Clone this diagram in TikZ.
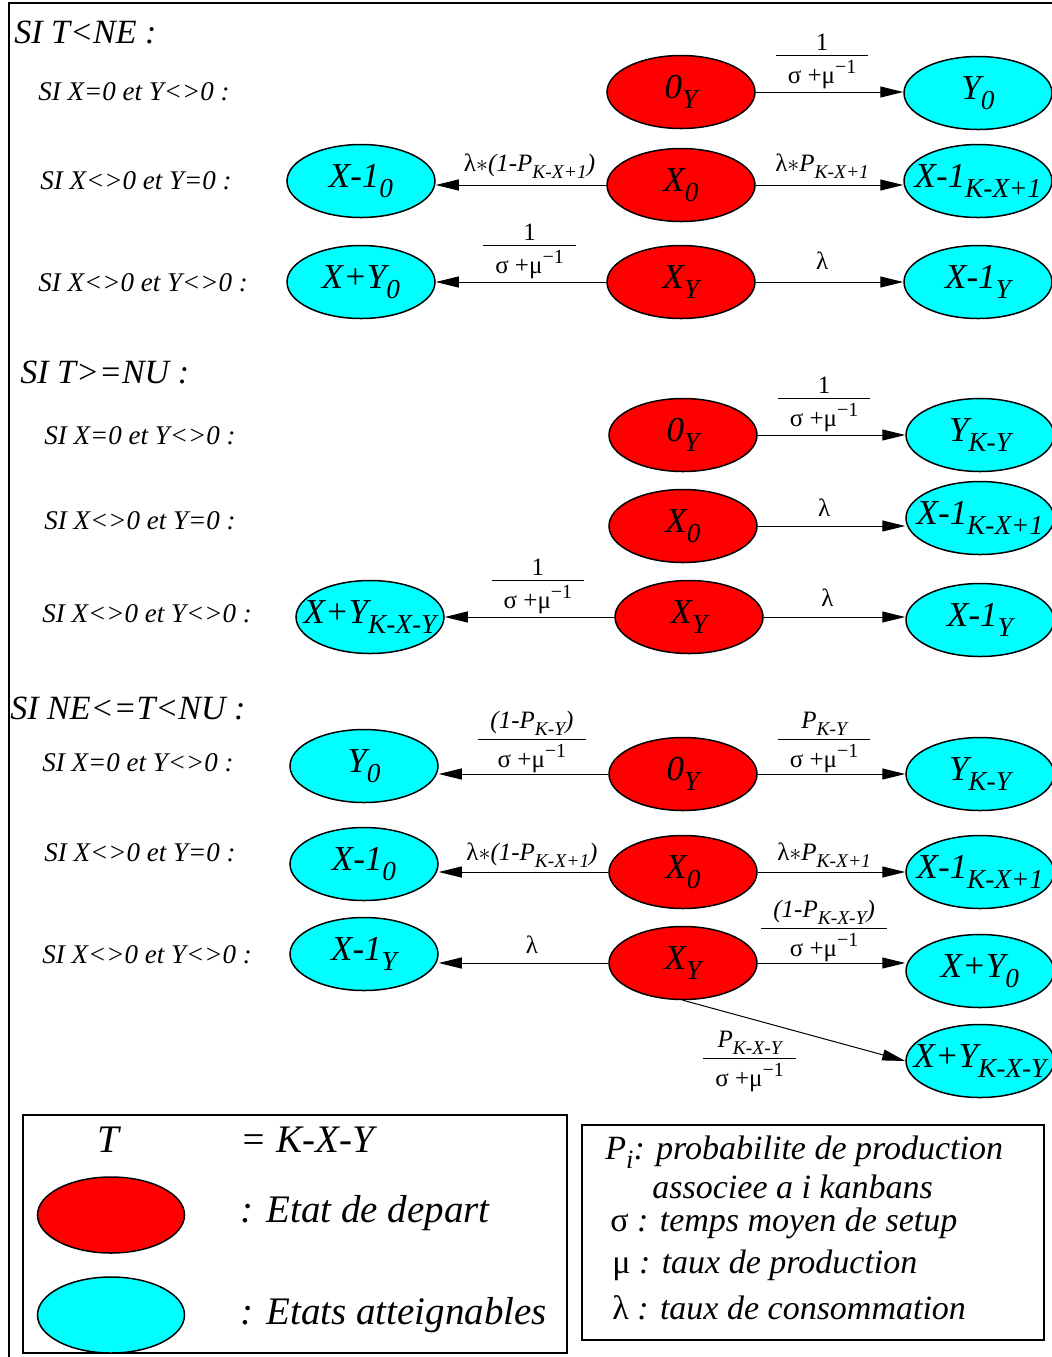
\documentclass[tikz,border=0pt]{standalone}
\usepackage{fontspec}
\setmainfont{Liberation Serif}
\usetikzlibrary{arrows.meta,positioning,shapes.geometric}
\definecolor{depRed}{HTML}{FF0000}
\definecolor{atCyan}{HTML}{00FFFF}
\newcommand{\lo}[1]{\raisebox{-0.28em}{\scalebox{0.78}{#1}}}
\newcommand{\lam}{\textup{λ}}
\newcommand{\sigmu}{\textup{σ +μ\raisebox{0.42em}{\scalebox{0.8}{−1}}}}
\newcommand{\rate}[3][1pt]{\begin{tabular}{c}#2\\[#1]\hline\rule{0pt}{14pt}#3\end{tabular}}
\newcommand{\etat}[1]{\makebox[0pt]{#1}}

\begin{document}
\begin{tikzpicture}[x=0.5pt,y=-0.5pt,font=\itshape,
    etatbase/.style={ellipse,draw=black,line width=0.75pt,minimum width=74pt,
                     minimum height=36.5pt,inner sep=0pt,
                     font=\fontsize{17.5}{21}\selectfont\itshape},
    depart/.style={etatbase,fill=depRed},
    atteint/.style={etatbase,fill=atCyan},
    flow/.style={-{Triangle[length=11.5pt,width=5.5pt]},line width=0.5pt},
    rate/.style={pos=0.45,inner sep=1pt,font=\fontsize{12.5}{14.5}\selectfont\itshape},
    cond/.style={anchor=west,inner sep=0pt,font=\fontsize{13.5}{16}\selectfont\itshape},
    titre/.style={anchor=west,inner sep=0pt,font=\fontsize{17}{20}\selectfont\itshape},
    legende/.style={anchor=west,inner sep=0pt,font=\fontsize{17}{20}\selectfont\itshape},
    legbig/.style={anchor=west,inner sep=0pt,font=\fontsize{19.5}{23}\selectfont\itshape}]
  \useasboundingbox (0,0) rectangle (1052,1357);
  \draw[line width=1pt] (9,3) rectangle (1070,1370);

  % SI T<NE
  \node[titre] (tA) at (14,32) {SI T<NE :};
  \node[cond] (cA1) at (38,92) {SI X=0 et Y<>0 :};
  \node[cond] (cA2) at (40,181) {SI X<>0 et Y=0 :};
  \node[cond] (cA3) at (38,283) {SI X<>0 et Y<>0 :};
  \node[depart] (a0Y) at (681,92) {\etat{0\lo{Y}}};
  \node[atteint] (aY0) at (978,93) {\etat{Y\lo{0}}};
  \node[depart] (aX0) at (681,185) {\etat{X\lo{0}}};
  \node[atteint] (aXm0) at (361,181) {\etat{X-1\lo{0}}};
  \node[atteint] (aXmK) at (978,181) {\etat{X-1\lo{K-X+1}}};
  \node[depart] (aXY) at (681,282) {\etat{X\lo{Y}}};
  \node[atteint] (aXpY) at (361,282) {\etat{X+Y\lo{0}}};
  \node[atteint] (aXmY) at (978,282) {\etat{X-1\lo{Y}}};
  \draw[flow] (a0Y.east) -- node[rate,above=-1.5pt]{\rate[-2pt]{\textup{1}}{\sigmu}} (a0Y.east -| aY0.west);
  \draw[flow] (aX0.west) -- node[rate,above=2pt]{\lam$\ast$(1-P\lo{K-X+1})} (aX0.west -| aXm0.east);
  \draw[flow] (aX0.east) -- node[rate,above=2pt]{\lam$\ast$P\lo{K-X+1}} (aX0.east -| aXmK.west);
  \draw[flow] (aXY.west) -- node[rate,above=-1.5pt]{\rate[-2pt]{\textup{1}}{\sigmu}} (aXY.west -| aXpY.east);
  \draw[flow] (aXY.east) -- node[rate,above=5pt]{\lam} (aXY.east -| aXmY.west);

  % SI T>=NU
  \node[titre] (tB) at (20,372) {SI T>=NU :};
  \node[cond] (cB1) at (44,436) {SI X=0 et Y<>0 :};
  \node[cond] (cB2) at (44,521) {SI X<>0 et Y=0 :};
  \node[cond] (cB3) at (42,614) {SI X<>0 et Y<>0 :};
  \node[depart] (b0Y) at (683,435) {\etat{0\lo{Y}}};
  \node[atteint] (bYK) at (980,435) {\etat{Y\lo{K-Y}}};
  \node[depart] (bX0) at (683,526) {\etat{X\lo{0}}};
  \node[atteint] (bXmK) at (980,518) {\etat{X-1\lo{K-X+1}}};
  \node[depart] (bXY) at (689,617) {\etat{X\lo{Y}}};
  \node[atteint] (bXpYK) at (370,617) {\etat{X+Y\lo{K-X-Y}}};
  \node[atteint] (bXmY) at (980,620) {\etat{X-1\lo{Y}}};
  \draw[flow] (b0Y.east) -- node[rate,above=-1.5pt]{\rate[-2pt]{\textup{1}}{\sigmu}} (b0Y.east -| bYK.west);
  \draw[flow] (bX0.east) -- node[rate,above=3.5pt]{\lam} (bX0.east -| bXmK.west);
  \draw[flow] (bXY.west) -- node[rate,above=-1.5pt]{\rate[-2pt]{\textup{1}}{\sigmu}} (bXY.west -| bXpYK.east);
  \draw[flow] (bXY.east) -- node[rate,above=4pt]{\lam} (bXY.east -| bXmY.west);

  % SI NE<=T<NU
  \node[titre] (tC) at (10,708) {SI NE<=T<NU :};
  \node[cond] (cC1) at (42,763) {SI X=0 et Y<>0 :};
  \node[cond] (cC2) at (44,853) {SI X<>0 et Y=0 :};
  \node[cond] (cC3) at (42,955) {SI X<>0 et Y<>0 :};
  \node[depart] (c0Y) at (683,774) {\etat{0\lo{Y}}};
  \node[atteint] (cY0) at (364,766) {\etat{Y\lo{0}}};
  \node[atteint] (cYK) at (980,774) {\etat{Y\lo{K-Y}}};
  \node[depart] (cX0) at (683,872) {\etat{X\lo{0}}};
  \node[atteint] (cXm0) at (364,864) {\etat{X-1\lo{0}}};
  \node[atteint] (cXmK) at (980,872) {\etat{X-1\lo{K-X+1}}};
  \node[depart] (cXY) at (683,963) {\etat{X\lo{Y}}};
  \node[atteint] (cXmY) at (364,954) {\etat{X-1\lo{Y}}};
  \node[atteint] (cXpY0) at (980,971) {\etat{X+Y\lo{0}}};
  \node[atteint] (cXpYK) at (980,1061) {\etat{X+Y\lo{K-X-Y}}};
  \draw[flow] (c0Y.west) -- node[rate,above=-2.5pt]{\rate{(1-P\lo{K-Y})}{\sigmu}} (c0Y.west -| cY0.east);
  \draw[flow] (c0Y.east) -- node[rate,above=-2.5pt]{\rate{P\lo{K-Y}}{\sigmu}} (c0Y.east -| cYK.west);
  \draw[flow] (cX0.west) -- node[rate,above=1pt]{\lam$\ast$(1-P\lo{K-X+1})} (cX0.west -| cXm0.east);
  \draw[flow] (cX0.east) -- node[rate,above=1pt]{\lam$\ast$P\lo{K-X+1}} (cX0.east -| cXmK.west);
  \draw[flow] (cXY.west) -- node[rate,above=3.5pt]{\lam} (cXY.west -| cXmY.east);
  \draw[flow] (cXY.east) -- node[rate,above=-2.5pt]{\rate{(1-P\lo{K-X-Y})}{\sigmu}} (cXY.east -| cXpY0.west);
  \draw[flow] (cXY.south) -- node[rate,pos=0.3,below=3pt]{\rate{P\lo{K-X-Y}}{\sigmu}} (cXpYK.west);

  % legende
  \draw[line width=0.8pt] (23,1115) rectangle (567,1353);
  \node[legbig,anchor=center] (lT) at (108,1140) {T};
  \node[legbig] (lKXY) at (240,1140) {= K-X-Y};
  \node[depart,minimum width=73.5pt,minimum height=38pt] (lDep) at (111,1215) {};
  \node[legbig] (lDepT) at (240,1213) {: Etat de depart};
  \node[atteint,minimum width=73.5pt,minimum height=38pt] (lAt) at (111,1315) {};
  \node[legbig] (lAtT) at (240,1315) {: Etats atteignables};

  \draw[line width=0.8pt] (582,1125) rectangle (1044,1340);
  \node[legende] (lP) at (605,1152) {P\lo{i}: probabilite de production};
  \node[legende] (lP2) at (652,1187) {associee a i kanbans};
  \node[legende] (lS) at (610,1223) {\textup{σ} : temps moyen de setup};
  \node[legende] (lM) at (612,1265) {\textup{μ} : taux de production};
  \node[legende] (lL) at (612,1308) {\textup{λ} : taux de consommation};
\end{tikzpicture}
\end{document}
